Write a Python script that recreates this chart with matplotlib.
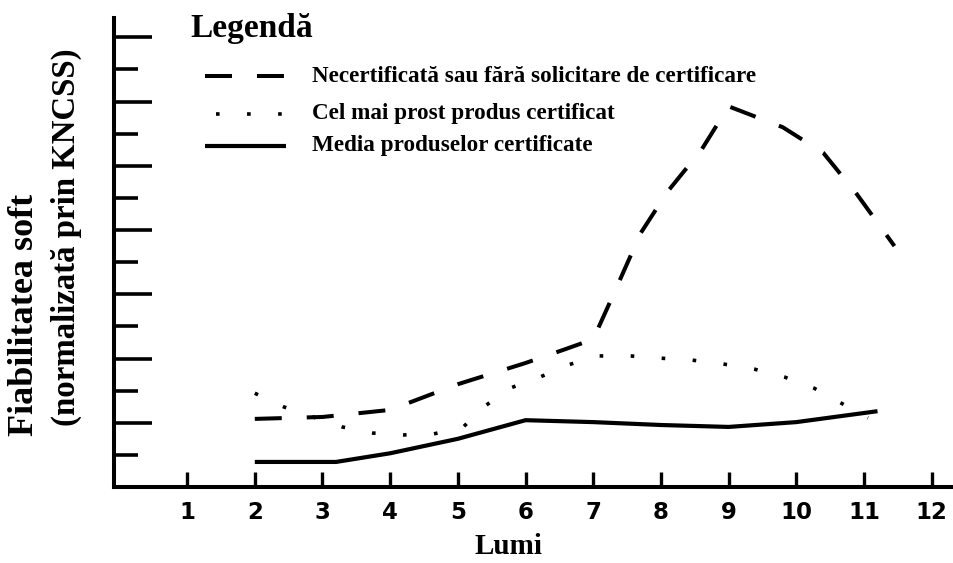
import numpy as np
import matplotlib
matplotlib.use("Agg")
import matplotlib.pyplot as plt
from matplotlib.lines import Line2D

# luni (axa x) si valorile citite pentru fiecare serie
luni_necert = [2, 3, 4, 5, 6, 6.6, 7, 7.3, 7.7, 8.1, 8.6, 9, 9.8, 10.4, 10.9, 11.45]
necertificata = [2.12, 2.18, 2.4, 3.2, 3.86, 4.3, 4.6, 6.0, 7.9, 9.2, 10.5, 11.85, 11.2, 10.4, 9.1, 7.5]

luni_prost = [2, 2.42, 3.29, 3.74, 4.19, 4.64, 5.08, 5.42, 5.8, 6.21, 6.63, 7.06, 7.55,
              8.0, 8.46, 8.92, 9.38, 9.83, 10.26, 10.69, 11.06]
cel_mai_prost = [2.92, 2.5, 1.87, 1.68, 1.62, 1.65, 1.87, 2.55, 3.1, 3.42, 3.8, 4.08, 4.08,
                 4.01, 3.95, 3.83, 3.67, 3.42, 3.08, 2.58, 2.15]

luni_media = [2, 3.2, 4, 5, 6, 7, 8, 9, 10, 11.2]
media = [0.78, 0.78, 1.05, 1.5, 2.08, 2.02, 1.93, 1.87, 2.02, 2.36]

etichete_luni = [str(i) for i in range(1, 13)]
serii = ["Necertificată sau fără solicitare de certificare",
         "Cel mai prost produs certificat",
         "Media produselor certificate"]

W, H = 954, 563


def fx(px):
    return px / W


def fy(py):
    return 1 - py / H


stil_necert = dict(color="black", lw=2.9, linestyle=(0, (6.7, 6.2)), dash_capstyle="butt")
stil_prost = dict(color="black", lw=2.6, linestyle=(0, (1, 7.6)), dash_capstyle="butt")
stil_media = dict(color="black", lw=3.0, linestyle="-", solid_capstyle="butt")

fig = plt.figure(figsize=(W / 100, H / 100), dpi=100)
ax = fig.add_axes([fx(114), fy(487), fx(954) - fx(114), fy(18) - fy(487)])

ax.plot(luni_necert, necertificata, **stil_necert)
ax.plot(luni_prost, cel_mai_prost, **stil_prost)
ax.plot(luni_media, media, **stil_media)

ax.set_xlim(-0.08, 12.33)
ax.set_ylim(0, 14.6)

for s in ["top", "right"]:
    ax.spines[s].set_visible(False)
for s in ["left", "bottom"]:
    ax.spines[s].set_linewidth(2.9)

ax.set_xticks(range(1, 13))
ax.set_xticklabels(etichete_luni, fontsize=16.5, fontweight="bold", family="DejaVu Sans")
ax.tick_params(axis="x", direction="in", length=10.5, width=2.4, pad=10)

# gradatii pe y: lungi la pozitiile pare, scurte la cele impare
ax.set_yticks(range(2, 15, 2))
ax.set_yticks(range(1, 15, 2), minor=True)
ax.tick_params(axis="y", which="major", direction="in", length=27, width=2.6, labelleft=False)
ax.tick_params(axis="y", which="minor", direction="in", length=17, width=2.6, labelleft=False)

fig.text(fx(508), fy(547), "Lumi", ha="center", va="center",
         fontsize=21, fontweight="bold", family="Liberation Serif")

fig.text(fx(25), fy(436), "Fiabilitatea soft", rotation=90, ha="center", va="bottom",
         fontsize=26, fontweight="bold", family="Liberation Serif")
fig.text(fx(66), fy(426), "(normalizată prin KNCSS)", rotation=90, ha="center", va="bottom",
         fontsize=23.7, fontweight="bold", family="Liberation Serif")

# legenda desenata in coordonatele figurii
fig.text(fx(190), fy(37), "Legendă", ha="left", va="baseline",
         fontsize=24, fontweight="bold", family="Liberation Serif")
randuri = [76, 114, 146]
for y, eticheta, stil in zip(randuri, serii, [stil_necert, stil_prost, stil_media]):
    x0, x1 = fx(205), fx(286)
    if stil is stil_prost:
        x0 = fx(216)
    fig.add_artist(Line2D([x0, x1], [fy(y), fy(y)], transform=fig.transFigure, **stil))
    fig.text(fx(312), fy(y), eticheta, ha="left", va="center",
             fontsize=16.7, fontweight="bold", family="Liberation Serif")

fig.savefig("out.png", dpi=100)
